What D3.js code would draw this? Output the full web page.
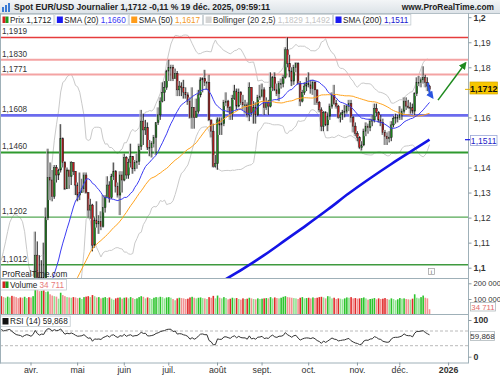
<!DOCTYPE html>
<html><head><meta charset="utf-8">
<script src="https://cdn.jsdelivr.net/npm/d3@7/dist/d3.min.js"></script>
<style>body{margin:0;background:#fff;}svg{display:block;font-family:"Liberation Sans Narrow","Liberation Sans",Arial,sans-serif;}</style>
</head><body><svg id="c" width="500" height="375"></svg>
<script>
// ---------- DATA ----------
// closes before the visible window (3 Feb - 11 Mar 2025), used only for indicator warm-up
const warmupCloses = [1.0345,1.0380,1.0405,1.0380,1.0330,1.0305,1.0360,1.0385,1.0465,1.0490,1.0485,1.0445,1.0420,1.0500,1.0460,1.0465,1.0510,1.0485,1.0400,1.0375,1.0485,1.0625,1.0790,1.0785,1.0835,1.0835,1.0920];
const firstBarDate = "2025-03-12";
// daily bars [high, low, close]
const barsMar = [[1.0945,1.0860,1.0890],[1.0900,1.0830,1.0850],[1.0905,1.0820,1.0880],[1.0930,1.0870,1.0920],[1.0955,1.0900,1.0945],[1.0945,1.0870,1.0900],[1.0910,1.0820,1.0855],[1.0860,1.0795,1.0815],[1.0860,1.0790,1.0800],[1.0820,1.0770,1.0790],[1.0800,1.0745,1.0755],[1.0810,1.0730,1.0800],[1.0850,1.0780,1.0830],[1.0855,1.0780,1.0815]];
const barsApr = [[1.0830,1.0775,1.0790],[1.0870,1.0775,1.0850],[1.1144,1.0830,1.1050],[1.1105,1.0940,1.0960],[1.1050,1.0880,1.0910],[1.1030,1.0900,1.0960],[1.1100,1.0940,1.0950],[1.1240,1.0945,1.1200],[1.1475,1.1190,1.1360],[1.1420,1.1270,1.1350],[1.1390,1.1265,1.1285],[1.1410,1.1275,1.1400],[1.1410,1.1340,1.1370],[1.1395,1.1350,1.1390],[1.1573,1.1380,1.1515],[1.1520,1.1400,1.1420],[1.1425,1.1310,1.1315],[1.1400,1.1315,1.1390],[1.1385,1.1315,1.1365],[1.1425,1.1330,1.1420],[1.1420,1.1370,1.1385],[1.1385,1.1290,1.1330]];
const barsMay = [[1.1340,1.1265,1.1290],[1.1380,1.1270,1.1300],[1.1355,1.1300,1.1315],[1.1380,1.1300,1.1370],[1.1380,1.1295,1.1300],[1.1300,1.1200,1.1230],[1.1275,1.1195,1.1250],[1.1255,1.1065,1.1090],[1.1200,1.1080,1.1190],[1.1265,1.1160,1.1175],[1.1210,1.1135,1.1185],[1.1225,1.1150,1.1165],[1.1290,1.1160,1.1240],[1.1290,1.1220,1.1280],[1.1365,1.1285,1.1330],[1.1345,1.1260,1.1280],[1.1375,1.1275,1.1365],[1.1420,1.1350,1.1385],[1.1390,1.1300,1.1325],[1.1340,1.1280,1.1290],[1.1385,1.1210,1.1370],[1.1385,1.1300,1.1350]];
const barsJun = [[1.1455,1.1345,1.1440],[1.1445,1.1355,1.1370],[1.1435,1.1355,1.1420],[1.1495,1.1400,1.1445],[1.1445,1.1375,1.1395],[1.1430,1.1385,1.1420],[1.1455,1.1395,1.1425],[1.1495,1.1410,1.1485],[1.1630,1.1470,1.1585],[1.1615,1.1490,1.1550],[1.1590,1.1530,1.1560],[1.1580,1.1470,1.1480],[1.1510,1.1445,1.1480],[1.1505,1.1440,1.1495],[1.1530,1.1480,1.1520],[1.1580,1.1450,1.1580],[1.1640,1.1570,1.1610],[1.1680,1.1590,1.1665],[1.1740,1.1660,1.1700],[1.1745,1.1665,1.1720],[1.1790,1.1710,1.1785]];
const barsJul = [[1.1830,1.1745,1.1800],[1.1810,1.1745,1.1800],[1.1810,1.1745,1.1755],[1.1795,1.1755,1.1775],[1.1785,1.1685,1.1710],[1.1745,1.1685,1.1725],[1.1740,1.1685,1.1720],[1.1750,1.1675,1.1700],[1.1720,1.1675,1.1690],[1.1700,1.1650,1.1665],[1.1680,1.1595,1.1600],[1.1720,1.1555,1.1640],[1.1640,1.1555,1.1600],[1.1675,1.1600,1.1625],[1.1710,1.1615,1.1690],[1.1760,1.1680,1.1750],[1.1760,1.1700,1.1755],[1.1790,1.1725,1.1740],[1.1745,1.1710,1.1740],[1.1770,1.1585,1.1590],[1.1590,1.1520,1.1545],[1.1575,1.1400,1.1405],[1.1450,1.1400,1.1415]];
const barsAug = [[1.1600,1.1391,1.1590],[1.1600,1.1530,1.1570],[1.1600,1.1530,1.1575],[1.1670,1.1565,1.1660],[1.1700,1.1645,1.1665],[1.1670,1.1620,1.1640],[1.1645,1.1590,1.1615],[1.1690,1.1590,1.1675],[1.1730,1.1670,1.1705],[1.1715,1.1630,1.1645],[1.1715,1.1640,1.1700],[1.1705,1.1650,1.1660],[1.1690,1.1630,1.1650],[1.1670,1.1615,1.1650],[1.1660,1.1600,1.1610],[1.1740,1.1585,1.1720],[1.1720,1.1610,1.1620],[1.1665,1.1575,1.1640],[1.1660,1.1575,1.1610],[1.1690,1.1605,1.1680],[1.1730,1.1670,1.1685]];
const barsSep = [[1.1735,1.1680,1.1710],[1.1720,1.1610,1.1640],[1.1680,1.1630,1.1660],[1.1670,1.1610,1.1645],[1.1780,1.1640,1.1720],[1.1765,1.1705,1.1760],[1.1780,1.1705,1.1710],[1.1735,1.1685,1.1695],[1.1745,1.1665,1.1735],[1.1755,1.1715,1.1735],[1.1770,1.1720,1.1760],[1.1880,1.1755,1.1870],[1.1919,1.1800,1.1815],[1.1850,1.1760,1.1785],[1.1800,1.1725,1.1745],[1.1810,1.1730,1.1800],[1.1820,1.1780,1.1815],[1.1820,1.1730,1.1735],[1.1745,1.1645,1.1665],[1.1710,1.1660,1.1700],[1.1740,1.1690,1.1725],[1.1760,1.1705,1.1735]];
const barsOct = [[1.1780,1.1720,1.1730],[1.1750,1.1695,1.1715],[1.1750,1.1690,1.1740],[1.1745,1.1650,1.1710],[1.1710,1.1650,1.1660],[1.1665,1.1620,1.1630],[1.1640,1.1545,1.1565],[1.1625,1.1545,1.1620],[1.1625,1.1565,1.1570],[1.1620,1.1545,1.1605],[1.1655,1.1590,1.1645],[1.1700,1.1635,1.1690],[1.1730,1.1650,1.1655],[1.1670,1.1635,1.1645],[1.1650,1.1595,1.1600],[1.1620,1.1580,1.1610],[1.1630,1.1590,1.1620],[1.1650,1.1600,1.1625],[1.1650,1.1615,1.1645],[1.1670,1.1625,1.1655],[1.1670,1.1580,1.1600],[1.1605,1.1540,1.1565],[1.1580,1.1525,1.1535]];
const barsNov = [[1.1545,1.1505,1.1520],[1.1525,1.1475,1.1480],[1.1505,1.1468,1.1490],[1.1555,1.1485,1.1545],[1.1580,1.1525,1.1565],[1.1575,1.1535,1.1560],[1.1595,1.1545,1.1585],[1.1610,1.1565,1.1590],[1.1655,1.1580,1.1635],[1.1655,1.1605,1.1620],[1.1625,1.1580,1.1590],[1.1610,1.1565,1.1580],[1.1595,1.1530,1.1540],[1.1550,1.1490,1.1525],[1.1540,1.1490,1.1515],[1.1545,1.1500,1.1520],[1.1585,1.1505,1.1570],[1.1605,1.1560,1.1595],[1.1615,1.1575,1.1600],[1.1610,1.1580,1.1600]];
const barsDec = [[1.1645,1.1590,1.1610],[1.1635,1.1590,1.1625],[1.1680,1.1615,1.1665],[1.1680,1.1630,1.1645],[1.1670,1.1635,1.1640],[1.1660,1.1615,1.1640],[1.1655,1.1615,1.1625],[1.1700,1.1610,1.1695],[1.1760,1.1685,1.1740],[1.1765,1.1725,1.1740],[1.1760,1.1720,1.1750],[1.1804,1.1735,1.1760],[1.1770,1.1720,1.1740],[1.1760,1.1705,1.1725],[1.1730,1.1695,1.1712]];
// daily volume, thousands
const volMar = [118,112,108,115,110,120,116,112,105,110,108,114,106,112];
const volApr = [110,118,160,158,150,152,155,145,148,130,122,118,115,102,140,125,118,112,110,108,112,110];
const volMay = [105,108,100,112,115,118,112,125,118,110,112,104,108,112,106,110,102,95,104,108,110,102];
const volJun = [108,110,104,112,106,100,104,112,118,114,104,110,106,100,108,112,110,114,112,104,110];
const volJul = [112,108,100,92,104,108,106,104,100,102,110,114,108,104,108,110,106,104,100,112,108,120,104];
const volAug = [122,108,104,112,106,98,102,108,104,106,100,96,104,100,102,108,104,100,98,104,100];
const volSep = [102,104,106,104,112,104,110,106,104,108,114,118,112,110,108,106,104,100,108,112,104,106];
const volOct = [108,104,110,106,108,112,114,110,104,118,116,104,108,100,104,102,98,104,110,108,112,104,106];
const volNov = [102,104,106,110,104,96,100,102,106,98,104,100,102,106,100,96,104,100,92,98];
const volDec = [106,102,104,100,98,96,102,130,108,104,112,122,108,104,34.711];
// SMA(200)
const sma200Dates = ["2025-08-05","2025-08-19","2025-09-02","2025-09-16","2025-09-30","2025-10-14","2025-10-28","2025-11-11","2025-11-25","2025-12-09","2025-12-19"];
const sma200Vals  = [1.0945,1.0995,1.1050,1.1110,1.1170,1.1232,1.1297,1.1357,1.1414,1.1468,1.1511];
// horizontal levels
const levelVals   = [1.1919,1.1830,1.1771,1.1608,1.1460,1.1202,1.1012];
const levelLabels = ["1,1919","1,1830","1,1771","1,1608","1,1460","1,1202","1,1012"];
const levelColors = ["#e63c3c","#f4a3a3","#f4a3a3","#6b6bee","#2f9a2f","#55a855","#3f9a3f"];
const levelWidths = [1.3,2,2,2.6,2,1.2,1.5];
// axis ticks (1,15 and 1,17 are hidden behind the value boxes in the reference)
const priceTicks = [1.10,1.11,1.12,1.13,1.14,1.16,1.18,1.19,1.20];
const volTicks = [100000,200000];
const rsiTicks = [0,100];
const monthNames = ["2026","févr.","mars","avr.","mai","juin","juil.","août","sept.","oct.","nov.","déc."];
// annotation arrows [bar offset from first bar, price]
const greenArrow = [[206,1.1669],[219,1.1817]];
const blueArrow  = [[201.3,1.1738],[203.3,1.1681]];
// texts
const hdrText = "Spot EUR/USD Journalier 1,1712 -0,11 % 19 déc. 2025, 09:59:11";
const lastPrice = 1.1712, lastPriceTxt = "1,1712";
const legendLabels = ["Prix","SMA (20)","SMA (50)","Bollinger (20 2,5)","SMA (200)"];
const legendValues = ["1,1712","1,1660","1,1617","1,1829 1,1492","1,1511"];
const sma200Txt = "1,1511", volTxt = "34 711", rsiTxt = "59,868";

// ---------- BUILD ----------
const bars = [barsMar,barsApr,barsMay,barsJun,barsJul,barsAug,barsSep,barsOct,barsNov,barsDec].flat();
const vols = [volMar,volApr,volMay,volJun,volJul,volAug,volSep,volOct,volNov,volDec].flat().map(v=>v*1000);
const nW = warmupCloses.length;
const allCloses = warmupCloses.concat(bars.map(b=>b[2]));
const data = bars.map((b,i)=>({i, high:b[0], low:b[1], close:b[2], open: allCloses[nW+i-1], vol: vols[i], prevVol: i>0?vols[i-1]:vols[0]}));

const parse = d3.timeParse("%Y-%m-%d");
const dates = [];
{ let d = parse(firstBarDate); const end = parse("2026-01-05");
  while (d < end) { if (d.getDay()!==0 && d.getDay()!==6) dates.push(new Date(d)); d = d3.timeDay.offset(d,1); } }
const fmtD = d3.timeFormat("%Y-%m-%d");
const dateIdx = new Map(dates.map((d,i)=>[fmtD(d),i]));

function sma(arr,n){return arr.map((v,i)=> i>=n-1 ? d3.mean(arr.slice(i-n+1,i+1)) : null);}
function bb(arr,n,k){return arr.map((v,i)=>{ if(i<n-1) return null; const s=arr.slice(i-n+1,i+1); const m=d3.mean(s); const sd=Math.sqrt(d3.mean(s.map(x=>(x-m)*(x-m)))); return [m+k*sd,m-k*sd];});}
function rsi(cl,n){const out=cl.map(()=>null); let g=0,l=0; for(let i=1;i<=n;i++){const d=cl[i]-cl[i-1]; if(d>0)g+=d; else l-=d;} g/=n; l/=n; out[n]=100-100/(1+g/l);
  for(let i=n+1;i<cl.length;i++){const d=cl[i]-cl[i-1]; g=(g*(n-1)+Math.max(d,0))/n; l=(l*(n-1)+Math.max(-d,0))/n; out[i]= l===0?100:100-100/(1+g/l);} return out;}
const s20 = sma(allCloses,20).slice(nW), s50 = sma(allCloses,50).slice(nW);
const bands = bb(allCloses,20,2.5).slice(nW);
const rsiV = rsi(allCloses,14).slice(nW);

// ---------- LAYOUT ----------
const svg = d3.select("#c");
const PR = 468, mainTop = 13, mainBot = 278, volBot = 314, rsiBot = 362.5;
const x = d3.scaleLinear().domain([14,211]).range([31,448.6]);
const y = d3.scaleLinear().domain([1.10,1.20]).range([267.7,17.2]);
const yV = d3.scaleLinear().domain([0,200000]).range([314.7,283.3]);
const yR = d3.scaleLinear().domain([0,100]).range([356.7,320]);
const loc = d3.formatLocale({decimal:",",thousands:" ",grouping:[3],currency:["",""]});

const defs = svg.append("defs");
const grad = defs.append("linearGradient").attr("id","hdr").attr("x1",0).attr("y1",0).attr("x2",0).attr("y2",1);
grad.append("stop").attr("offset",0).attr("stop-color","#f3f5f7");
grad.append("stop").attr("offset",1).attr("stop-color","#dde3e8");
function clip(id,x0,y0,w,h){defs.append("clipPath").attr("id",id).append("rect").attr("x",x0).attr("y",y0).attr("width",w).attr("height",h);}
clip("cm",0,mainTop+0.5,PR,mainBot-mainTop-0.5);
clip("cv",0,mainBot,PR,volBot-mainBot);
clip("cr",0,volBot,PR,rsiBot-volBot);

// header
svg.append("rect").attr("x",0).attr("y",0).attr("width",500).attr("height",13).attr("fill","url(#hdr)");
svg.append("line").attr("x1",0).attr("x2",500).attr("y1",13.5).attr("y2",13.5).attr("stroke","#b3bfc6");
[[2,7,2],[5,5,4],[8,3,6]].forEach(([bx,by,bh])=>svg.append("rect").attr("x",bx).attr("y",by).attr("width",2).attr("height",bh+3).attr("fill","#3a7bd5"));
svg.append("text").attr("x",14).attr("y",10).attr("font-size",8.6).attr("font-weight","bold").attr("fill","#222").text(hdrText);
svg.append("text").attr("x",494).attr("y",10).attr("text-anchor","end").attr("font-size",8.4).attr("font-weight","bold").attr("fill","#222").text("www.ProRealTime.com");

// main panel
const gm = svg.append("g").attr("clip-path","url(#cm)");
const line = (acc)=>d3.line().defined(d=>acc(d)!=null).x(d=>x(d.i)).y(d=>y(acc(d)));
gm.append("path").datum(data).attr("d",line(d=>bands[d.i]&&bands[d.i][0])).attr("fill","none").attr("stroke","#c9c9c9").attr("stroke-width",1);
gm.append("path").datum(data).attr("d",line(d=>bands[d.i]&&bands[d.i][1])).attr("fill","none").attr("stroke","#c9c9c9").attr("stroke-width",1);
levelVals.forEach((v,k)=>gm.append("line").attr("x1",0).attr("x2",PR).attr("y1",y(v)).attr("y2",y(v)).attr("stroke",levelColors[k]).attr("stroke-width",levelWidths[k]));
const s200 = sma200Dates.map((d,k)=>({i:dateIdx.get(d), v:sma200Vals[k]}));
gm.append("path").datum(s200).attr("d",d3.line().curve(d3.curveMonotoneX).x(d=>x(d.i)).y(d=>y(d.v))).attr("fill","none").attr("stroke","#1414e6").attr("stroke-width",2.6);
const cg = gm.append("g").selectAll("g").data(data).join("g");
cg.append("line").attr("x1",d=>x(d.i)-1.2).attr("x2",d=>x(d.i)-1.2).attr("y1",d=>y(d.high)).attr("y2",d=>y(d.low)).attr("stroke","#bdbdbd").attr("stroke-width",1);
cg.append("line").attr("x1",d=>x(d.i)).attr("x2",d=>x(d.i)).attr("y1",d=>y(d.high)).attr("y2",d=>y(d.low)).attr("stroke","#222").attr("stroke-width",0.9);
cg.append("rect").attr("x",d=>x(d.i)-0.8).attr("width",1.6)
  .attr("y",d=>y(Math.max(d.open,d.close))).attr("height",d=>Math.max(0.8,Math.abs(y(d.open)-y(d.close))))
  .attr("fill",d=>d.close>=d.open?"#1c8a1c":"#c41a1a").attr("stroke","#1a1a1a").attr("stroke-width",0.5);
gm.append("path").datum(data).attr("d",line(d=>s50[d.i])).attr("fill","none").attr("stroke","#ffa31f").attr("stroke-width",1);
gm.append("path").datum(data).attr("d",line(d=>s20[d.i])).attr("fill","none").attr("stroke","#3b3bf2").attr("stroke-width",1);

// arrows
defs.append("marker").attr("id","ag").attr("viewBox","0 0 10 10").attr("refX",8).attr("refY",5).attr("markerWidth",5).attr("markerHeight",5).attr("orient","auto")
  .append("path").attr("d","M0,0L10,5L0,10z").attr("fill","#1e8a1e");
defs.append("marker").attr("id","ab").attr("viewBox","0 0 10 10").attr("refX",7).attr("refY",5).attr("markerWidth",3.4).attr("markerHeight",3.4).attr("orient","auto")
  .append("path").attr("d","M0,0L10,5L0,10z").attr("fill","#2a55e0");
svg.append("line").attr("x1",x(greenArrow[0][0])).attr("y1",y(greenArrow[0][1])).attr("x2",x(greenArrow[1][0])).attr("y2",y(greenArrow[1][1]))
  .attr("stroke","#1e8a1e").attr("stroke-width",1.5).attr("marker-end","url(#ag)");
svg.append("path").attr("d",`M${x(blueArrow[0][0])},${y(blueArrow[0][1])} Q${x(blueArrow[0][0])+0.5},${(y(blueArrow[0][1])+y(blueArrow[1][1]))/2+2} ${x(blueArrow[1][0])},${y(blueArrow[1][1])}`)
  .attr("fill","none").attr("stroke","#2a55e0").attr("stroke-width",2.2).attr("marker-end","url(#ab)");

// level labels
levelVals.forEach((v,k)=>svg.append("text").attr("x",2).attr("y",y(v)-3).attr("font-size",8.2).attr("fill","#333").text(levelLabels[k]));
svg.append("text").attr("x",2).attr("y",276.5).attr("font-size",8.2).attr("fill","#222").text("ProRealTime.com");
svg.append("rect").attr("x",428.5).attr("y",268.5).attr("width",6).attr("height",6).attr("fill","#fff").attr("stroke","#999").attr("stroke-width",0.7);
svg.append("text").attr("x",431.5).attr("y",273.8).attr("font-size",6).attr("text-anchor","middle").attr("fill","#555").text("i");

// legends: label + value as separate texts, boxes sized to their content
const LFS = 8.2;
function legendItem(x0,yTop,sw,label,labelColor,value,valueColor){
  const g = svg.append("g");
  const r = g.append("rect").attr("x",x0+0.5).attr("y",yTop).attr("height",10.5).attr("fill","#fff").attr("fill-opacity",0.85).attr("stroke","#c3cbd0").attr("stroke-width",0.8);
  sw(g,x0+2.5,yTop+2);
  const t1 = g.append("text").attr("x",x0+10).attr("y",yTop+8.3).attr("font-size",LFS).attr("fill",labelColor).text(label);
  const wl = t1.node().getComputedTextLength();
  const t2 = g.append("text").attr("x",x0+10+wl+2.2).attr("y",yTop+8.3).attr("font-size",LFS).attr("fill",valueColor).text(value);
  const w = 10+wl+2.2+t2.node().getComputedTextLength()+2;
  r.attr("width",w);
  return x0+w+1;
}
const sq = c=>(g,sx,sy)=>g.append("rect").attr("x",sx).attr("y",sy).attr("width",6).attr("height",6.5).attr("fill",c);
const sqRG = (g,sx,sy)=>{g.append("rect").attr("x",sx).attr("y",sy).attr("width",3).attr("height",6.5).attr("fill","#d42020");g.append("rect").attr("x",sx+3).attr("y",sy).attr("width",3).attr("height",6.5).attr("fill","#1d9a1d");};
{
  const swatches = [sqRG, sq("#1a1af0"), sq("#ff9c1a"), sq("#d4d4d4"), sq("#1a1af0")];
  const labCol = ["#222","#222","#222","#333","#222"];
  const valCol = ["#222","#3a3af5","#f39a26","#c4c4c4","#2020d0"];
  let cx = 0;
  legendLabels.forEach((l,k)=>{ cx = legendItem(cx,14.5,swatches[k],l,labCol[k],legendValues[k],valCol[k]); });
}

// volume panel
const gv = svg.append("g").attr("clip-path","url(#cv)");
gv.selectAll("rect").data(data).join("rect")
  .attr("x",d=>x(d.i)-0.8).attr("width",1.6).attr("y",d=>yV(d.vol)).attr("height",d=>yV(0)-yV(d.vol))
  .attr("fill",d=>{const up=d.close>=d.open, lite=d.vol<d.prevVol; return up?(lite?"#92e292":"#2cc42c"):(lite?"#f29292":"#e02a2a");});
legendItem(0,279.5,sqRG,"Volume","#222",volTxt,"#e87a7a");

// RSI panel
const gr = svg.append("g").attr("clip-path","url(#cr)");
[70,30].forEach(v=>gr.append("line").attr("x1",0).attr("x2",PR).attr("y1",yR(v)).attr("y2",yR(v)).attr("stroke","#a8a8a8").attr("stroke-width",0.8).attr("stroke-dasharray","3,2"));
gr.append("path").datum(data).attr("d",d3.line().defined(d=>rsiV[d.i]!=null).x(d=>x(d.i)).y(d=>yR(rsiV[d.i]))).attr("fill","none").attr("stroke","#333").attr("stroke-width",1);
legendItem(0,316,sq("#111"),"RSI (14)","#222",rsiTxt,"#222");

// frame lines
const fr = "#9fb0b8";
[mainBot,volBot,rsiBot].forEach(v=>svg.append("line").attr("x1",0).attr("x2",PR).attr("y1",v+0.5).attr("y2",v+0.5).attr("stroke",fr));
svg.append("line").attr("x1",PR+0.5).attr("x2",PR+0.5).attr("y1",mainTop).attr("y2",rsiBot+1).attr("stroke",fr);
svg.append("line").attr("x1",0.5).attr("x2",0.5).attr("y1",mainTop).attr("y2",rsiBot+1).attr("stroke",fr);

// right axes
function rAxis(scale,ticks,fmt,fs,boldSet){
  const g = svg.append("g").attr("transform",`translate(${PR+0.5},0)`).call(d3.axisRight(scale).tickValues(ticks).tickSize(3).tickPadding(2).tickFormat(fmt));
  g.select(".domain").remove();
  g.selectAll("line").attr("stroke","#8a9aa2");
  g.selectAll("text").attr("font-size",fs).attr("fill","#333").attr("font-family",null)
    .attr("font-weight",d=>boldSet&&boldSet.includes(d)?"bold":"normal");
  return g;
}
rAxis(y,priceTicks,d=>loc.format(".2~f")(d),8.8,[1.10,1.20]);
rAxis(yV,volTicks,d=>loc.format(",")(d),7.6,null);
rAxis(yR,rsiTicks,d=>String(d),8.8,[0,100]);

// value boxes
svg.append("rect").attr("x",470).attr("y",82).attr("width",27.5).attr("height",12).attr("fill","#f7c600").attr("stroke","#d4a800").attr("stroke-width",0.7);
svg.append("line").attr("x1",465).attr("x2",470).attr("y1",y(lastPrice)).attr("y2",y(lastPrice)).attr("stroke","#e0b000");
svg.append("text").attr("x",483.7).attr("y",91.5).attr("text-anchor","middle").attr("font-size",9).attr("font-weight","bold").attr("fill","#111").text(lastPriceTxt);
svg.append("rect").attr("x",470.5).attr("y",135.5).attr("width",26.5).attr("height",10).attr("fill","#fff").attr("stroke","#9aa6d8").attr("stroke-width",0.8);
svg.append("line").attr("x1",465).attr("x2",470).attr("y1",y(sma200Vals[sma200Vals.length-1])).attr("y2",y(sma200Vals[sma200Vals.length-1])).attr("stroke","#1414e6").attr("stroke-width",1.2);
svg.append("text").attr("x",483.7).attr("y",143.6).attr("text-anchor","middle").attr("font-size",8.6).attr("fill","#2323c8").text(sma200Txt);
svg.append("rect").attr("x",470.5).attr("y",302.5).attr("width",25).attr("height",8.5).attr("fill","#fff").attr("stroke","#b0b8bc").attr("stroke-width",0.8);
svg.append("text").attr("x",483).attr("y",309.5).attr("text-anchor","middle").attr("font-size",7.8).attr("fill","#e26a6a").text(volTxt);
svg.append("rect").attr("x",470.5).attr("y",331.5).attr("width",24).attr("height",9).attr("fill","#fff").attr("stroke","#b0b8bc").attr("stroke-width",0.8);
svg.append("text").attr("x",482.5).attr("y",339).attr("text-anchor","middle").attr("font-size",8).attr("fill","#333").text(rsiTxt);

// x axis (first trading day of each month)
const monthStarts = dates.map((d,i)=>({d,i})).filter(o=>o.i>0 && o.d.getMonth()!==dates[o.i-1].getMonth());
const gx = svg.append("g");
monthStarts.forEach(o=>{
  gx.append("line").attr("x1",x(o.i)).attr("x2",x(o.i)).attr("y1",rsiBot).attr("y2",rsiBot+3).attr("stroke","#8a9aa2");
  gx.append("text").attr("x",x(o.i)).attr("y",372.5).attr("text-anchor","middle").attr("font-size",8.8).attr("fill","#333")
    .attr("font-weight",o.d.getMonth()===0?"bold":"normal").text(monthNames[o.d.getMonth()]);
});
</script></body></html>
